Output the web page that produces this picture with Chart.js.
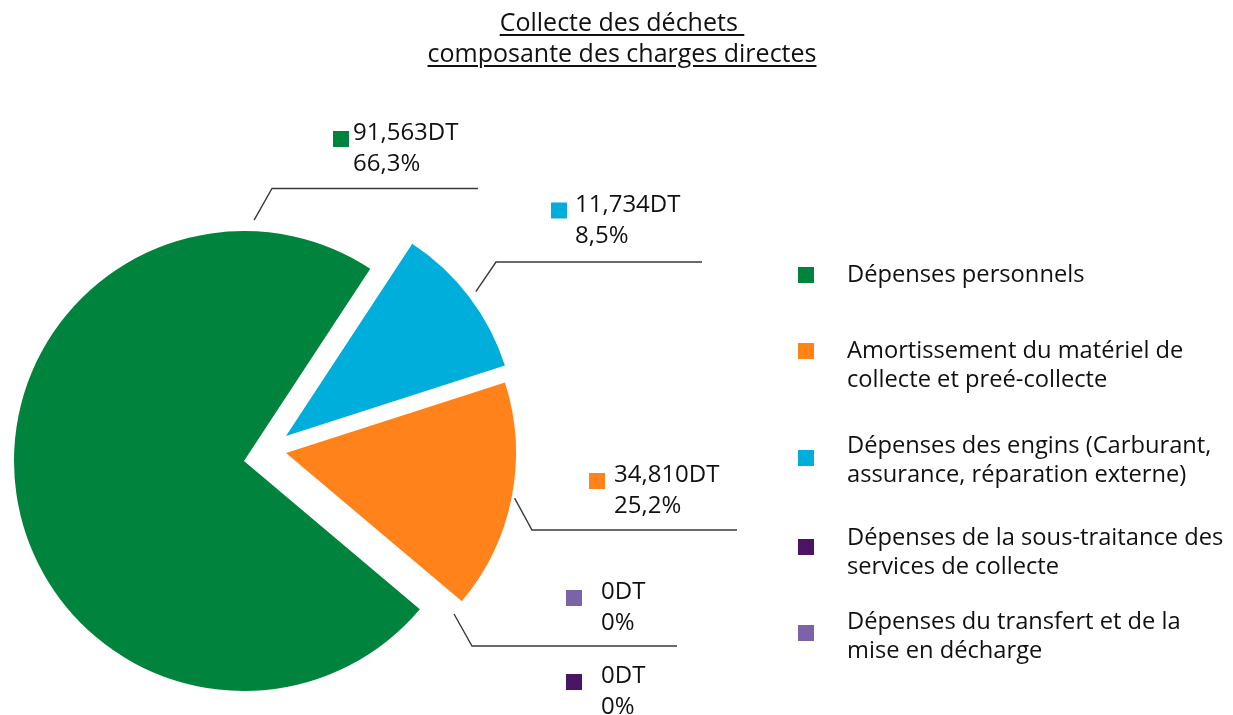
<!DOCTYPE html>
<html>
<head>
<meta charset="utf-8">
<script src="https://cdn.jsdelivr.net/npm/chart.js@4.4.1/dist/chart.umd.min.js"></script>
<style>
html,body{margin:0;padding:0;background:#fff;}
#wrap{position:relative;width:1233px;height:715px;overflow:hidden;font-family:"Open Sans",sans-serif;color:#111;}
#chart{position:absolute;left:0;top:0;}
#title{position:absolute;left:0;width:1244px;top:6px;text-align:center;font-size:25px;line-height:31px;white-space:pre;}
#title span{text-decoration:underline;text-decoration-thickness:1.5px;text-underline-offset:3px;}
.lg-item{position:absolute;left:847px;font-size:23.7px;line-height:29px;white-space:pre;}
.lg-sq{position:absolute;left:798px;width:16px;height:16px;}
</style>
</head>
<body>
<div id="wrap">
  <canvas id="chart" width="1233" height="715"></canvas>
  <div id="title"></div>
  <div id="legend"></div>
</div>
<script>
// ---- data ----
const titleLines = ['Collecte des déchets ', 'composante des charges directes'];
const categories = [
  'Dépenses personnels',
  'Amortissement du matériel de\ncollecte et preé-collecte',
  'Dépenses des engins (Carburant,\nassurance, réparation externe)',
  'Dépenses de la sous-traitance des\nservices de collecte',
  'Dépenses du transfert et de la\nmise en décharge'
];
const amountsDT = [91563, 34810, 11734, 0, 0];
const percentLabels = ['66,3%', '25,2%', '8,5%', '0%', '0%'];
// share of the circle each slice occupies as drawn in the picture
const drawnShares = [73.1, 16.1, 10.8, 0, 0];

// ---- style ----
const colors = ['#00843d', '#ff831a', '#00aedb', '#4b1464', '#7a63a8'];
const drawOrder = [2, 1, 4, 3, 0];          // clockwise order of slices
const sliceShift = [[-24, 11], [18, 3], [18, -14], [0, 0], [0, 0]]; // exploded offsets
const labelLayout = [
  {sqX: 333, base: 140, textX: 353, start: {angle: 2.4, dist: 241}, elbow: [272, 188.5], endX: 478},
  {sqX: 589, base: 482, textX: 614, start: {angle: null, dist: 233}, elbow: [532, 530], endX: 737},
  {sqX: 551, base: 211.5, textX: 575, start: {angle: null, dist: 238.5}, elbow: [496, 262], endX: 702},
  {sqX: 566, base: 683, textX: 601, start: null},
  {sqX: 566, base: 599, textX: 601, start: {angle: 131.4, dist: 248}, elbow: [472, 646], endX: 677}
];
const legendTextTops = [258.5, 335.2, 429.5, 521.5, 606.2];
const legendSquareTops = [267, 343, 450, 539, 625];

// ---- title & legend (HTML text) ----
document.getElementById('title').innerHTML = titleLines.map(t => '<span>' + t + '</span>').join('<br>');
const lg = document.getElementById('legend');
categories.forEach((c, i) => {
  const sq = document.createElement('div');
  sq.className = 'lg-sq';
  sq.style.top = legendSquareTops[i] + 'px';
  sq.style.background = colors[i];
  lg.appendChild(sq);
  const t = document.createElement('div');
  t.className = 'lg-item';
  t.style.top = legendTextTops[i] + 'px';
  t.textContent = c;
  lg.appendChild(t);
});

// ---- plugins ----
const explodePlugin = {
  id: 'explode',
  beforeDatasetDraw(chart, args) {
    const ctx = chart.ctx;
    args.meta.data.forEach((arc, j) => {
      const cat = drawOrder[j];
      const [dx, dy] = sliceShift[cat];
      ctx.save();
      ctx.translate(dx, dy);
      arc.draw(ctx);
      ctx.restore();
    });
    return false;
  }
};

const labelPlugin = {
  id: 'pieLabels',
  afterDatasetsDraw(chart) {
    const ctx = chart.ctx;
    const arcs = chart.getDatasetMeta(0).data;
    ctx.save();
    ctx.font = '24px "Open Sans"';
    ctx.textBaseline = 'alphabetic';
    drawOrder.forEach((cat, j) => {
      const arc = arcs[j];
      const L = labelLayout[cat];
      const [dx, dy] = sliceShift[cat];
      if (L.start) {
        const a = L.start.angle === null ? (arc.startAngle + arc.endAngle) / 2 : (L.start.angle - 90) * Math.PI / 180;
        const sx = arc.x + dx + Math.cos(a) * L.start.dist;
        const sy = arc.y + dy + Math.sin(a) * L.start.dist;
        ctx.strokeStyle = '#3a3a3a';
        ctx.lineWidth = 1.4;
        ctx.beginPath();
        ctx.moveTo(sx, sy);
        ctx.lineTo(L.elbow[0], L.elbow[1]);
        ctx.lineTo(L.endX, L.elbow[1]);
        ctx.stroke();
      }
      ctx.fillStyle = colors[cat];
      ctx.fillRect(L.sqX, L.base - 9, 16, 16);
      ctx.fillStyle = '#111';
      ctx.fillText(amountsDT[cat].toLocaleString('en-US') + 'DT', L.textX, L.base);
      ctx.fillText(percentLabels[cat], L.textX, L.base + 31);
    });
    ctx.restore();
  }
};

new Chart(document.getElementById('chart'), {
  type: 'pie',
  data: {
    labels: drawOrder.map(i => categories[i].replace('\n', ' ')),
    datasets: [{
      data: drawOrder.map(i => drawnShares[i]),
      backgroundColor: drawOrder.map(i => colors[i]),
      borderWidth: 0,
      radius: 230
    }]
  },
  options: {
    responsive: false,
    animation: false,
    devicePixelRatio: 1,
    events: [],
    rotation: 33.3,
    radius: 230,
    layout: {padding: {left: 0, right: 697, top: 185, bottom: 0}},
    plugins: {legend: {display: false}, tooltip: {enabled: false}, title: {display: false}}
  },
  plugins: [explodePlugin, labelPlugin]
});
</script>
</body>
</html>
